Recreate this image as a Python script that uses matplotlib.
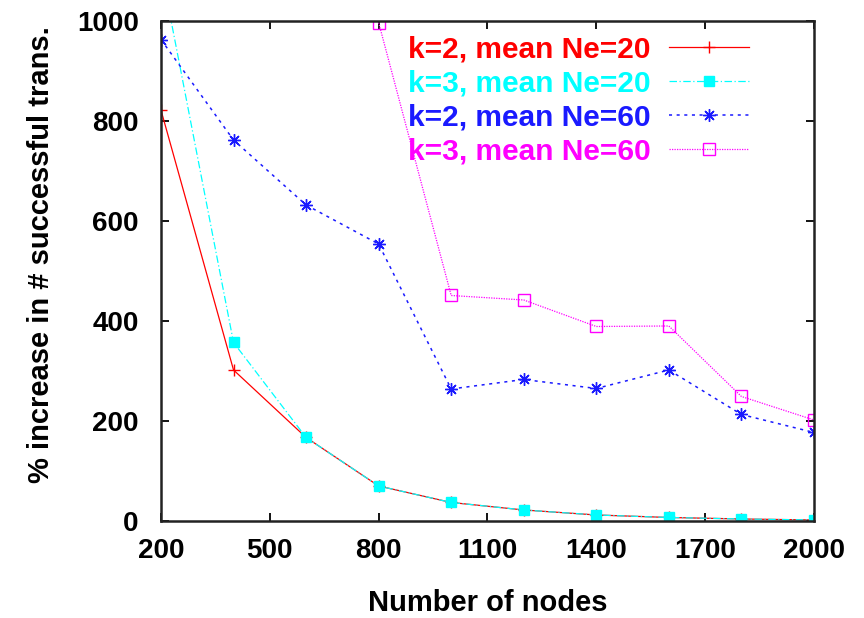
import matplotlib.pyplot as plt

plt.rcParams['font.family'] = ['Liberation Sans', 'DejaVu Sans']
plt.rcParams['font.weight'] = 'bold'
plt.rcParams['axes.labelweight'] = 'bold'

# data
nodes = [200, 400, 600, 800, 1000, 1200, 1400, 1600, 1800, 2000]
k2_ne20 = [822, 302, 167, 70, 37, 22, 12, 7, 4, 2]
k3_ne20 = [1105, 357, 167, 70, 37, 22, 12, 7, 4, 2]
k2_ne60 = [963, 762, 632, 554, 264, 283, 265, 302, 213, 177]
k3_ne60 = [2600, 1900, 1400, 997, 451, 442, 389, 390, 249, 202]

xticks = [200, 500, 800, 1100, 1400, 1700, 2000]
yticks = [0, 200, 400, 600, 800, 1000]

fig = plt.figure(figsize=(8.64, 6.18), dpi=100)
ax = fig.add_axes([0.1863, 0.157, 0.7558, 0.809])

ax.plot(nodes, k2_ne20, color='#ff0000', lw=0.9, marker='+', ms=8, mew=1,
        label='k=2, mean Ne=20')
ax.plot(nodes, k3_ne20, color='#00ffff', lw=0.9, dashes=(6, 2, 1, 2),
        marker='s', ms=7, label='k=3, mean Ne=20')
ax.plot(nodes, k2_ne60, color='#1a1aff', lw=1.1, dashes=(2, 3),
        marker=(8, 2, 0), ms=9, mew=1, label='k=2, mean Ne=60')
ax.plot(nodes, k3_ne60, color='#ff00ff', lw=0.9, dashes=(1, 1),
        marker='s', ms=8, mfc='none', mew=1, label='k=3, mean Ne=60')

ax.set_xlim(200, 2000)
ax.set_ylim(0, 1000)
ax.set_xticks(xticks)
ax.set_yticks(yticks)
ax.tick_params(direction='in', top=True, right=True, length=6, width=1.3,
               labelsize=20)
ax.tick_params(axis='x', pad=12)
ax.tick_params(axis='y', pad=16)
for s in ax.spines.values():
    s.set_linewidth(1.8)
    s.set_color('#222222')

ax.set_xlabel('Number of nodes', fontsize=21, labelpad=18)
ax.set_ylabel('% increase in # successful trans.', fontsize=21)
ax.yaxis.set_label_coords(-0.162, 0.532)

leg = ax.legend(loc='upper right', bbox_to_anchor=(0.933, 1.012), frameon=False,
                prop={'size': 21.5, 'weight': 'bold'}, markerfirst=False,
                labelcolor='linecolor', handlelength=2.7, handletextpad=0.6,
                labelspacing=0.2, numpoints=1, borderpad=0.2)

fig.savefig('out.png', dpi=100)
